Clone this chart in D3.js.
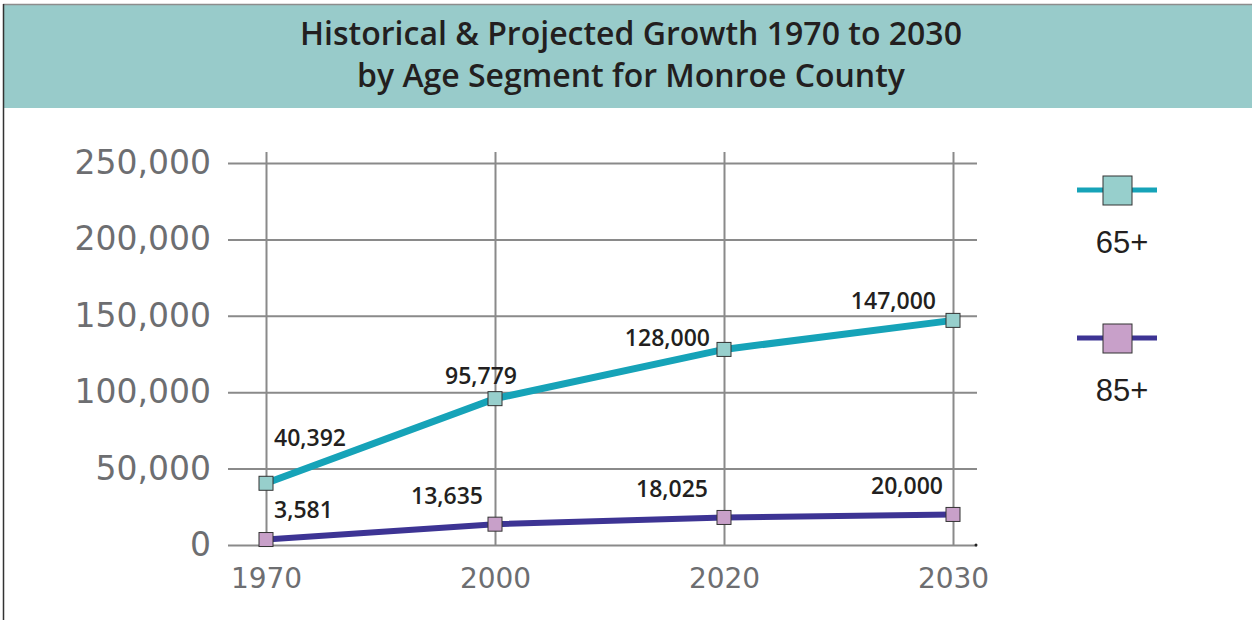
<!DOCTYPE html>
<html>
<head>
<meta charset="utf-8">
<script src="https://cdn.jsdelivr.net/npm/d3@7"></script>
<style>
  body { margin: 0; background: #fff; }
  svg { display: block; }
</style>
</head>
<body>
<div id="vis"></div>
<script>
// data
const years = ["1970", "2000", "2020", "2030"];
const values65 = [40392, 95779, 128000, 147000];
const values85 = [3581, 13635, 18025, 20000];
const seriesNames = ["65+", "85+"];
const yTicks = [0, 50000, 100000, 150000, 200000, 250000];
const titleLines = ["Historical & Projected Growth 1970 to 2030", "by Age Segment for Monroe County"];

const WIDTH = 1252;
const HEIGHT = 620;

const svg = d3.select("#vis")
  .append("svg")
  .attr("width", WIDTH)
  .attr("height", HEIGHT);

// frame + title band
svg.append("rect")
  .attr("x", 3).attr("y", 5)
  .attr("width", WIDTH - 3).attr("height", 103)
  .attr("fill", "#98cbca");
svg.append("line")
  .attr("x1", 3).attr("x2", WIDTH).attr("y1", 4.5).attr("y2", 4.5)
  .attr("stroke", "#8c8c8c").attr("stroke-width", 1.5);
svg.append("line")
  .attr("x1", 3.5).attr("x2", 3.5).attr("y1", 4).attr("y2", HEIGHT)
  .attr("stroke", "#333").attr("stroke-width", 1.5);

svg.selectAll(".title")
  .data(titleLines)
  .join("text")
  .attr("class", "title")
  .attr("x", 631)
  .attr("y", (d, i) => 45 + i * 42)
  .attr("text-anchor", "middle")
  .style("font-family", "'Open Sans', sans-serif")
  .style("font-weight", 600)
  .style("font-size", "32px")
  .style("fill", "#231f20")
  .text(d => d);

// scales
const x = d3.scalePoint().domain(years).range([266, 953]);
const y = d3.scaleLinear().domain([0, 250000]).range([545, 163]);

const plot = svg.append("g");

// horizontal grid + y labels
const yAxis = plot.append("g")
  .attr("transform", "translate(228,0)")
  .call(d3.axisLeft(y)
    .tickValues(yTicks)
    .tickSize(-749)
    .tickPadding(17)
    .tickFormat(d3.format(",")));
yAxis.select(".domain").remove();
yAxis.selectAll("line").attr("stroke", "#8a8a8a").attr("stroke-width", 2);
yAxis.selectAll("text")
  .style("font-family", "'DejaVu Sans', sans-serif")
  .style("font-weight", 400)
  .style("font-size", "33px")
  .style("fill", "#6d6e71");

// vertical grid + x labels
const xAxis = plot.append("g")
  .attr("transform", "translate(0,545)")
  .call(d3.axisBottom(x)
    .tickSize(-393)
    .tickPadding(23));
xAxis.select(".domain").remove();
xAxis.selectAll("line").attr("stroke", "#8a8a8a").attr("stroke-width", 2);
xAxis.selectAll("text")
  .style("font-family", "'DejaVu Sans', sans-serif")
  .style("font-weight", 400)
  .style("font-size", "28px")
  .style("fill", "#6d6e71");

svg.append("circle").attr("cx", 976).attr("cy", 545).attr("r", 1.5).attr("fill", "#222");

const series = [
  { name: seriesNames[0], values: values65, line: "#16a3b8", fill: "#97cfcc", width: 7 },
  { name: seriesNames[1], values: values85, line: "#3d3494", fill: "#c8a0c9", width: 6 }
];

const lineGen = d3.line()
  .x((d, i) => x(years[i]))
  .y(d => y(d));

series.forEach(s => {
  plot.append("path")
    .datum(s.values)
    .attr("d", lineGen)
    .attr("fill", "none")
    .attr("stroke", s.line)
    .attr("stroke-width", s.width);

  plot.selectAll(null)
    .data(s.values)
    .join("rect")
    .attr("x", (d, i) => x(years[i]) - 7)
    .attr("y", d => y(d) - 7)
    .attr("width", 14)
    .attr("height", 14)
    .attr("fill", s.fill)
    .attr("stroke", "#333")
    .attr("stroke-width", 1);
});

// data labels: first point sits to the right, the rest to the left of the marker
const fmt = d3.format(",");
const dx65 = [8, 22, -14, -17];
const dy65 = [-37, -15, -3, -11];
const dx85 = [8, -12, -16, -10];
const dy85 = [-22, -20, -20, -20];

function drawLabels(values, dx, dy) {
  plot.selectAll(null)
    .data(values)
    .join("text")
    .attr("x", (d, i) => x(years[i]) + dx[i])
    .attr("y", (d, i) => y(d) + dy[i])
    .attr("text-anchor", (d, i) => i === 0 ? "start" : "end")
    .style("font-family", "'Open Sans', sans-serif")
    .style("font-weight", 600)
    .style("font-size", "23px")
    .style("fill", "#231f20")
    .text(d => fmt(d));
}
drawLabels(values65, dx65, dy65);
drawLabels(values85, dx85, dy85);

// legend
const legend = svg.append("g")
  .selectAll("g")
  .data(series)
  .join("g")
  .attr("transform", (d, i) => `translate(1117,${190 + i * 148})`);

legend.append("line")
  .attr("x1", -40).attr("x2", 40)
  .attr("stroke", d => d.line)
  .attr("stroke-width", 5);
legend.append("rect")
  .attr("x", -14).attr("y", -14)
  .attr("width", 29).attr("height", 29)
  .attr("fill", d => d.fill)
  .attr("stroke", "#333")
  .attr("stroke-width", 1);
legend.append("text")
  .attr("x", 5)
  .attr("y", 63)
  .attr("text-anchor", "middle")
  .style("font-family", "'Liberation Sans', Arial, sans-serif")
  .style("font-size", "31px")
  .style("fill", "#231f20")
  .text(d => d.name);
</script>
</body>
</html>
